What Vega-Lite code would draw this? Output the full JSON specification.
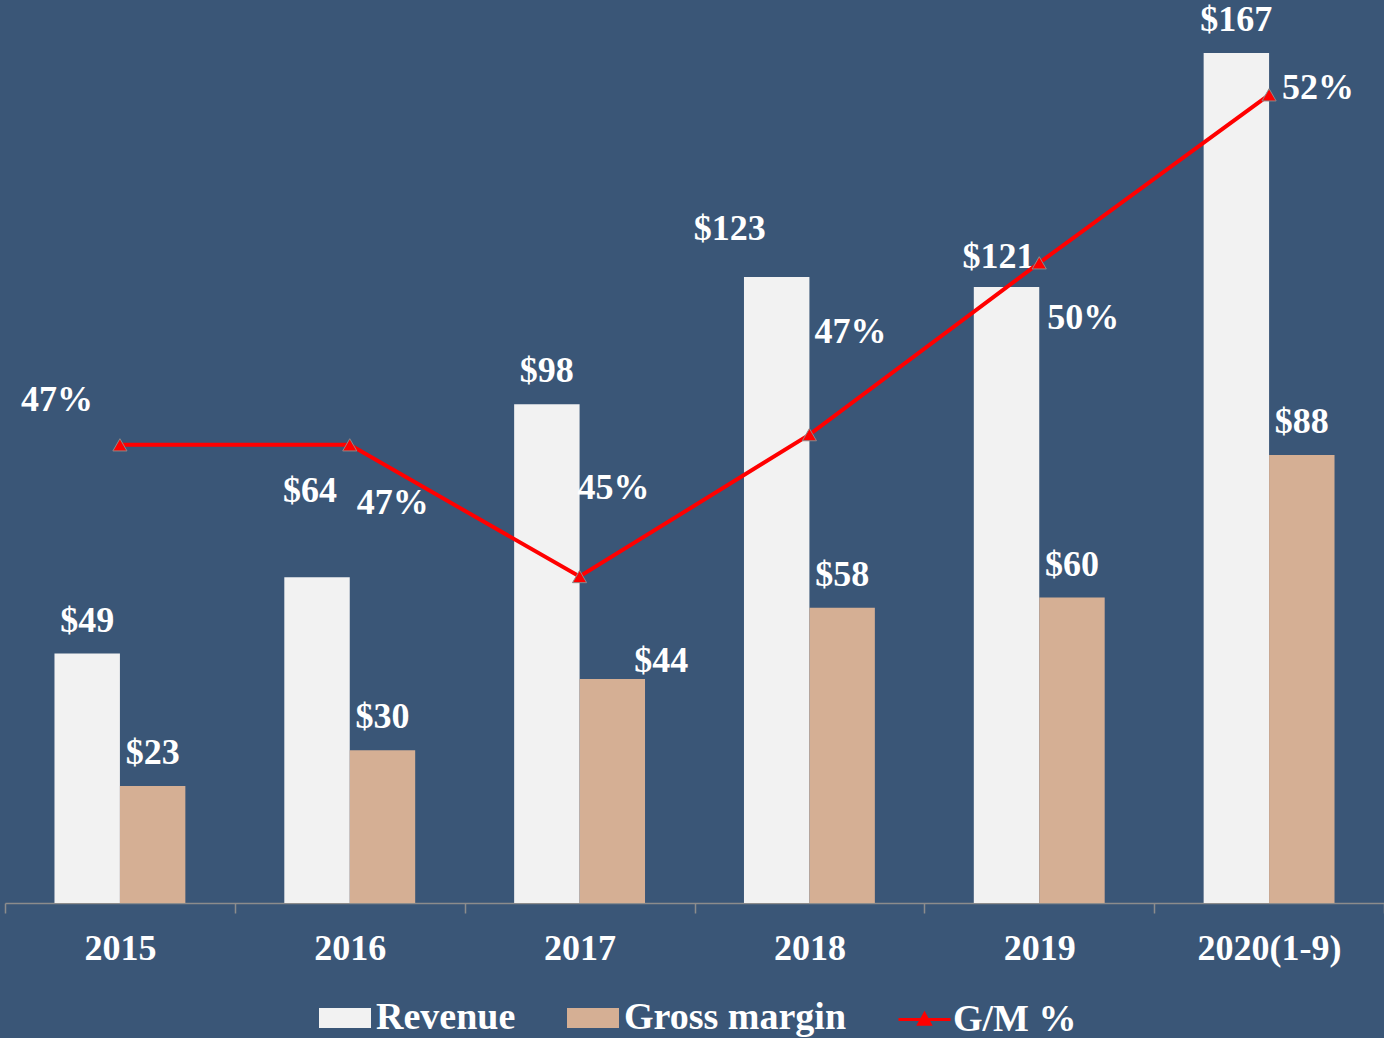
{
  "$schema": "https://vega.github.io/schema/vega-lite/v6.json",
  "width": 1379,
  "height": 903,
  "autosize": {"type": "none"},
  "padding": {"left": 5, "top": 0, "right": 0, "bottom": 135},
  "background": "#3A5677",
  "config": {
    "view": {"stroke": null},
    "text": {"font": "Liberation Serif", "fontWeight": "bold", "fontSize": 36, "fill": "#FFFFFF", "baseline": "alphabetic", "align": "center"}
  },
  "datasets": {
    "bars": [
      {"year": "2015", "series": "Revenue", "value": 49},
      {"year": "2015", "series": "Gross margin", "value": 23},
      {"year": "2016", "series": "Revenue", "value": 64},
      {"year": "2016", "series": "Gross margin", "value": 30},
      {"year": "2017", "series": "Revenue", "value": 98},
      {"year": "2017", "series": "Gross margin", "value": 44},
      {"year": "2018", "series": "Revenue", "value": 123},
      {"year": "2018", "series": "Gross margin", "value": 58},
      {"year": "2019", "series": "Revenue", "value": 121},
      {"year": "2019", "series": "Gross margin", "value": 60},
      {"year": "2020(1-9)", "series": "Revenue", "value": 167},
      {"year": "2020(1-9)", "series": "Gross margin", "value": 88}
    ],
    "gm": [
      {"year": "2015", "pct": 0.469},
      {"year": "2016", "pct": 0.469},
      {"year": "2017", "pct": 0.4483},
      {"year": "2018", "pct": 0.4706},
      {"year": "2019", "pct": 0.4976},
      {"year": "2020(1-9)", "pct": 0.524}
    ]
  },
  "layer": [
    {
      "data": {"name": "bars"},
      "encoding": {
        "x": {
          "field": "year", "type": "nominal",
          "sort": ["2015", "2016", "2017", "2018", "2019", "2020(1-9)"],
          "scale": {"paddingInner": 0, "paddingOuter": 0},
          "axis": {
            "title": null, "domainColor": "#8C8C8C", "domainWidth": 1.5,
            "tickColor": "#8C8C8C", "tickWidth": 1.5, "tickSize": 10, "tickBand": "extent",
            "labelFont": "Liberation Serif", "labelFontWeight": "bold", "labelFontSize": 36,
            "labelColor": "#FFFFFF", "labelPadding": 18, "labelAngle": 0, "labelLimit": 0
          }
        },
        "y": {"field": "value", "type": "quantitative", "scale": {"domain": [0, 177.4], "nice": false}, "axis": null},
        "xOffset": {"field": "series", "type": "nominal", "sort": ["Revenue", "Gross margin"], "scale": {"domain": ["Revenue", "Gross margin"], "paddingOuter": 0.756, "paddingInner": 0}}
      },
      "layer": [
        {
          "mark": {"type": "bar"},
          "encoding": {
            "color": {
              "field": "series", "type": "nominal",
              "scale": {"domain": ["Revenue", "Gross margin"], "range": ["#F2F2F2", "#D5AF94"]},
              "legend": {
                "orient": "none", "legendX": 314, "legendY": 992, "direction": "horizontal", "title": null,
                "symbolType": "M-1,-0.385H1V0.385H-1Z", "symbolSize": 2704, "symbolStrokeWidth": 0, "symbolOpacity": 1,
                "labelFont": "Liberation Serif", "labelFontWeight": "bold", "labelFontSize": 38,
                "labelColor": "#FFFFFF", "labelOffset": 5, "columnPadding": 51, "labelLimit": 0
              }
            }
          }
        },
        {
          "transform": [{"filter": "datum.series == 'Revenue' && datum.year != '2016' && datum.year != '2018' && datum.year != '2019'"}],
          "mark": {"type": "text", "dy": -22},
          "encoding": {"text": {"field": "value", "type": "quantitative", "format": "$.0f"}}
        },
        {
          "transform": [{"filter": "datum.series == 'Gross margin' && datum.year != '2017'"}],
          "mark": {"type": "text", "dy": -22},
          "encoding": {"text": {"field": "value", "type": "quantitative", "format": "$.0f"}}
        },
        {
          "transform": [{"filter": "datum.series == 'Revenue' && datum.year == '2016'"}],
          "mark": {"type": "text", "dx": -7, "dy": -75},
          "encoding": {"text": {"field": "value", "type": "quantitative", "format": "$.0f"}}
        },
        {
          "transform": [{"filter": "datum.series == 'Revenue' && datum.year == '2018'"}],
          "mark": {"type": "text", "dx": -47, "dy": -37},
          "encoding": {"text": {"field": "value", "type": "quantitative", "format": "$.0f"}}
        },
        {
          "transform": [{"filter": "datum.series == 'Revenue' && datum.year == '2019'"}],
          "mark": {"type": "text", "dx": -8, "dy": -19},
          "encoding": {"text": {"field": "value", "type": "quantitative", "format": "$.0f"}}
        },
        {
          "transform": [{"filter": "datum.series == 'Gross margin' && datum.year == '2017'"}],
          "mark": {"type": "text", "dx": 49, "dy": -7},
          "encoding": {"text": {"field": "value", "type": "quantitative", "format": "$.0f"}}
        }
      ]
    },
    {
      "data": {"name": "gm"},
      "encoding": {
        "x": {"field": "year", "type": "nominal", "sort": ["2015", "2016", "2017", "2018", "2019", "2020(1-9)"]},
        "y": {"field": "pct", "type": "quantitative", "scale": {"domain": [0.397, 0.5389], "nice": false, "zero": false}, "axis": null}
      },
      "layer": [
        {
          "mark": {"type": "line", "strokeWidth": 4},
          "encoding": {
            "stroke": {
              "datum": "G/M %",
              "scale": {"domain": ["G/M %"], "range": ["#FF0000"]},
              "legend": {
                "orient": "none", "legendX": 892, "legendY": 992, "title": null,
                "symbolType": "M-1,0H1M-0.22,0.18L0,-0.22L0.22,0.18Z", "symbolSize": 2704, "symbolStrokeWidth": 3,
                "symbolFillColor": "#FF0000", "symbolStrokeColor": "#FF0000",
                "labelFont": "Liberation Serif", "labelFontWeight": "bold", "labelFontSize": 38,
                "labelColor": "#FFFFFF", "labelOffset": 1, "labelLimit": 0,
                "encode": {"symbols": {"update": {"fill": {"value": "#FF0000"}, "stroke": {"value": "#FF0000"}}}}
              }
            }
          }
        },
        {
          "mark": {"type": "point", "shape": "triangle-up", "filled": true, "fill": "#FF0000", "stroke": "#8A8A8A", "strokeWidth": 1, "size": 200, "opacity": 1}
        },
        {
          "transform": [{"filter": "datum.year == '2015'"}],
          "mark": {"type": "text", "dx": -63, "dy": -34},
          "encoding": {"text": {"field": "pct", "type": "quantitative", "format": ".0%"}}
        },
        {
          "transform": [{"filter": "datum.year == '2016'"}],
          "mark": {"type": "text", "dx": 43, "dy": 69},
          "encoding": {"text": {"field": "pct", "type": "quantitative", "format": ".0%"}}
        },
        {
          "transform": [{"filter": "datum.year == '2017'"}],
          "mark": {"type": "text", "dx": 34, "dy": -78},
          "encoding": {"text": {"field": "pct", "type": "quantitative", "format": ".0%"}}
        },
        {
          "transform": [{"filter": "datum.year == '2018'"}],
          "mark": {"type": "text", "dx": 41, "dy": -92},
          "encoding": {"text": {"field": "pct", "type": "quantitative", "format": ".0%"}}
        },
        {
          "transform": [{"filter": "datum.year == '2019'"}],
          "mark": {"type": "text", "dx": 44, "dy": 66},
          "encoding": {"text": {"field": "pct", "type": "quantitative", "format": ".0%"}}
        },
        {
          "transform": [{"filter": "datum.year == '2020(1-9)'"}],
          "mark": {"type": "text", "dx": 49, "dy": 4},
          "encoding": {"text": {"field": "pct", "type": "quantitative", "format": ".0%"}}
        }
      ]
    }
  ],
  "resolve": {"scale": {"y": "independent"}}
}
